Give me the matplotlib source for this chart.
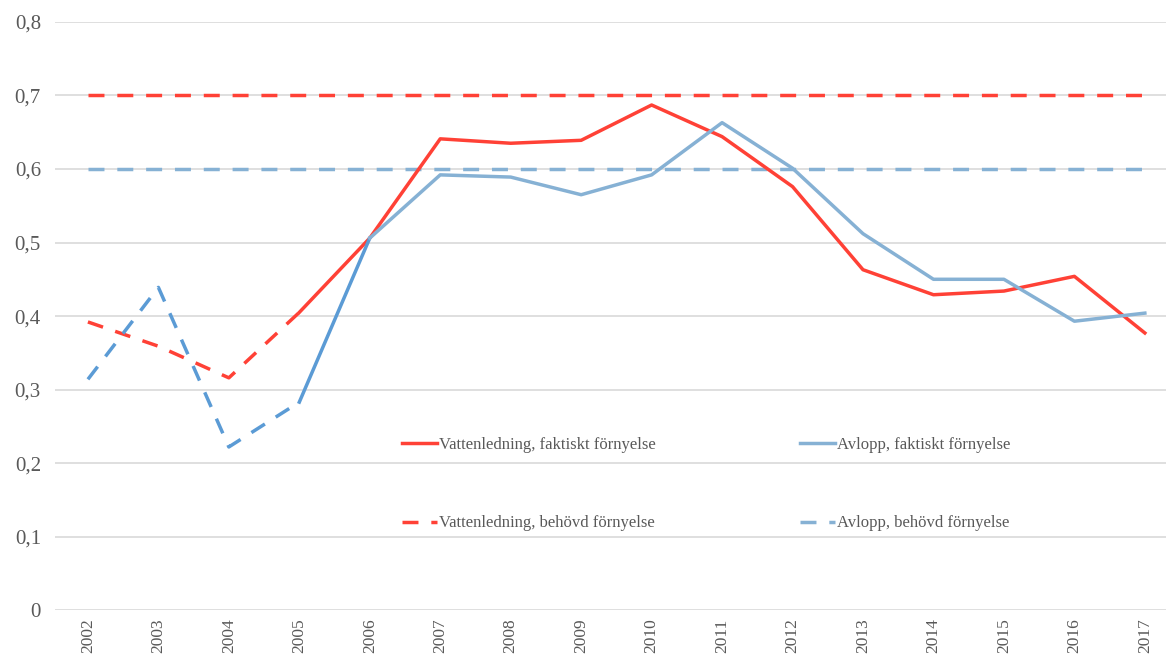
import matplotlib
matplotlib.use("Agg")
import matplotlib.pyplot as plt
from matplotlib.lines import Line2D
from matplotlib.ticker import FuncFormatter

years = list(range(2002, 2018))
vatten_faktiskt = [0.392, 0.359, 0.316, 0.405, 0.506, 0.641, 0.635, 0.639,
                   0.687, 0.644, 0.576, 0.463, 0.429, 0.434, 0.454, 0.377]
avlopp_faktiskt = [0.314, 0.439, 0.222, 0.283, 0.506, 0.592, 0.589, 0.565,
                   0.592, 0.663, 0.601, 0.512, 0.450, 0.450, 0.393, 0.404]
vatten_behovd = [0.7] * len(years)
avlopp_behovd = [0.6] * len(years)
labels = ["Vattenledning, faktiskt förnyelse", "Vattenledning, behövd förnyelse",
          "Avlopp, faktiskt förnyelse", "Avlopp, behövd förnyelse"]

red = "#FF4136"
blue_light = "#86B1D4"
blue_dark = "#5B9BD5"
grey = "#595959"
dash = (0, (4.6, 3.7))
lw = 2.5

plt.rcParams["font.family"] = ["Liberation Serif", "DejaVu Serif"]

fig = plt.figure(figsize=(11.66, 6.64), dpi=100)
ax = fig.add_axes([0.047, 0.081, 0.953, 0.886])

# targets
ax.plot(years, vatten_behovd, color=red, lw=lw, linestyle=dash)
ax.plot(years, avlopp_behovd, color=blue_light, lw=lw, linestyle=dash)

# actual, early years are dashed
ax.plot(years[:4], vatten_faktiskt[:4], color=red, lw=lw, linestyle=dash)
ax.plot(years[3:], vatten_faktiskt[3:], color=red, lw=lw)
ax.plot(years[:4], avlopp_faktiskt[:4], color=blue_dark, lw=lw, linestyle=dash)
ax.plot(years[3:5], avlopp_faktiskt[3:5], color=blue_dark, lw=lw)
ax.plot(years[4:], avlopp_faktiskt[4:], color=blue_light, lw=lw)

ax.set_ylim(0, 0.8)
ax.set_xlim(2001.53, 2017.3)
ax.set_yticks([i / 10 for i in range(9)])
ax.yaxis.set_major_formatter(FuncFormatter(
    lambda v, p: "0" if v == 0 else f"{v:.1f}".replace(".", ",")))
ax.set_xticks(years)
ax.set_xticklabels([str(y) for y in years], rotation=90)
ax.grid(axis="y", color="#D9D9D9", lw=1.2)
ax.set_axisbelow(True)
for s in ax.spines.values():
    s.set_visible(False)
ax.tick_params(length=0, colors=grey, labelsize=12.5)
ax.tick_params(axis="y", pad=10, labelsize=15)
ax.tick_params(axis="x", pad=6)

handles = [Line2D([], [], color=red, lw=lw),
           Line2D([], [], color=red, lw=lw, linestyle=dash),
           Line2D([], [], color=blue_light, lw=lw),
           Line2D([], [], color=blue_light, lw=lw, linestyle=dash)]
leg = ax.legend(handles, labels, ncol=2, frameon=False, loc="upper left",
                bbox_to_anchor=(0.299, 0.32), fontsize=12, labelcolor=grey,
                handlelength=2.1, handletextpad=0.1, labelspacing=3.75,
                columnspacing=8.7)

fig.savefig("out.png", dpi=100)
